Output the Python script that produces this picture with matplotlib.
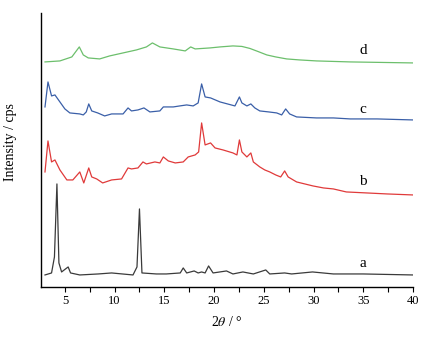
import matplotlib
matplotlib.use("Agg")
import matplotlib.pyplot as plt
from matplotlib.ticker import MultipleLocator

plt.rcParams['font.family'] = ['Liberation Serif', 'DejaVu Serif']
plt.rcParams['mathtext.fontset'] = 'stix'

# curve a (black)
a_x = [3.0, 3.66, 3.95, 4.2, 4.4, 4.67, 4.93, 5.33, 5.57, 6.5, 8.35, 9.7, 11.85, 12.25, 12.5, 12.75,
       14.2, 15.2, 16.6, 16.9, 17.25, 18.0, 18.4, 18.75, 19.1, 19.45, 19.9, 21.25, 21.9, 22.9, 23.95,
       25.2, 25.6, 27.1, 27.8, 29.9, 32.0, 35.0, 40.0]
a_y = [12, 14, 30, 103, 24, 15, 17, 20, 14, 12, 13, 14, 12, 20, 78, 14,
       13, 13, 14, 19, 14, 16, 14, 15, 14, 21, 14, 16, 13, 15, 13,
       17, 13, 14, 13, 15, 13, 13, 12]

# curve b (red)
b_x = [3.0, 3.3, 3.66, 4.0, 4.5, 5.2, 5.8, 6.5, 6.9, 7.4, 7.7, 8.2, 8.8, 9.7, 10.7, 11.35, 11.7,
       12.35, 12.85, 13.2, 14.05, 14.55, 14.9, 15.4, 16.1, 16.9, 17.4, 18.1, 18.45, 18.75, 19.1,
       19.65, 20.1, 20.9, 21.9, 22.3, 22.55, 22.8, 23.3, 23.7, 23.95, 24.6, 25.1, 25.6, 26.2, 26.7,
       27.1, 27.45, 28.3, 29.95, 31.0, 32.0, 33.3, 35.35, 37.4, 40.0]
b_y = [115, 146, 125, 127, 117, 107, 107, 115, 104, 119, 110, 108, 104, 107, 108, 119, 118,
       119, 125, 123, 125, 124, 130, 126, 124, 125, 130, 132, 135, 164, 142,
       144, 139, 137, 134, 132, 147, 135, 130, 134, 125, 120, 117, 115, 112, 110,
       116, 110, 105, 101, 99, 98, 95, 94, 93, 92]

# curve c (blue)
c_x = [3.0, 3.3, 3.66, 4.0, 4.5, 5.0, 5.5, 6.5, 6.85, 7.15, 7.4, 7.7, 8.3, 9.0, 9.7, 10.85, 11.35,
       11.7, 12.35, 12.95, 13.55, 14.55, 14.9, 15.9, 16.55, 17.25, 17.9, 18.4, 18.75, 19.1, 19.65,
       20.6, 22.1, 22.55, 22.8, 23.3, 23.7, 24.1, 24.6, 25.5, 26.3, 26.8, 27.2, 27.6, 28.3, 30.3,
       32.0, 33.7, 36.4, 40.0]
c_y = [180, 205, 191, 192, 185, 178, 174, 173, 172, 175, 183, 176, 174, 171, 173, 173, 179,
       176, 177, 179, 175, 176, 180, 180, 181, 182, 181, 184, 203, 190, 189,
       185, 181, 190, 184, 181, 183, 179, 176, 175, 174, 172, 178, 173, 170, 169,
       169, 168, 168, 167]

# curve d (green)
d_x = [3.0, 4.5, 5.7, 6.45, 6.85, 7.35, 8.5, 9.5, 10.85, 12.2, 13.2, 13.8, 14.55, 15.9, 17.1,
       17.65, 18.1, 19.6, 20.6, 21.9, 22.8, 23.6, 24.4, 25.3, 26.2, 27.3, 28.6, 30.3, 33.7, 40.0]
d_y = [225, 226, 230, 240, 232, 229, 228, 231, 234, 237, 240, 244, 240, 238, 236,
       240, 238, 239, 240, 241, 240.5, 238.5, 235.5, 232, 230, 228, 227, 226, 225, 224]

labels = ['a', 'b', 'c', 'd']
label_x = [35.0, 35.0, 35.0, 35.0]
label_y = [23, 105, 177, 236]
colors = ['#3a3a3a', '#e03a3a', '#3a5fa8', '#6cbf6c']

fig = plt.figure(figsize=(4.34, 3.40), dpi=100)
ax = fig.add_axes([0.0945, 0.156, 0.857, 0.806])

for xs, ys, col in zip([a_x, b_x, c_x, d_x], [a_y, b_y, c_y, d_y], colors):
    ax.plot(xs, ys, color=col, lw=0.9)

for lab, lx, ly in zip(labels, label_x, label_y):
    ax.text(lx, ly, lab, fontsize=11, ha='center', va='center', color='black')

ax.set_xlim(2.6, 40)
ax.set_ylim(0, 274)
ax.xaxis.set_major_locator(MultipleLocator(5))
ax.xaxis.set_minor_locator(MultipleLocator(2.5))
ax.set_xticks([5, 10, 15, 20, 25, 30, 35, 40])
ax.tick_params(axis='x', which='both', direction='out', length=3.5, width=0.8, labelsize=9, pad=2)
ax.set_yticks([])
for s in ['top', 'right']:
    ax.spines[s].set_visible(False)
for s in ['left', 'bottom']:
    ax.spines[s].set_linewidth(1.0)

ax.set_xlabel(r'2$\mathit{\theta}$ / °', fontsize=10, labelpad=6)
ax.set_ylabel('Intensity / cps', fontsize=10, labelpad=8)
ax.yaxis.set_label_coords(-0.065, 0.53)

fig.savefig('out.png', dpi=100)
